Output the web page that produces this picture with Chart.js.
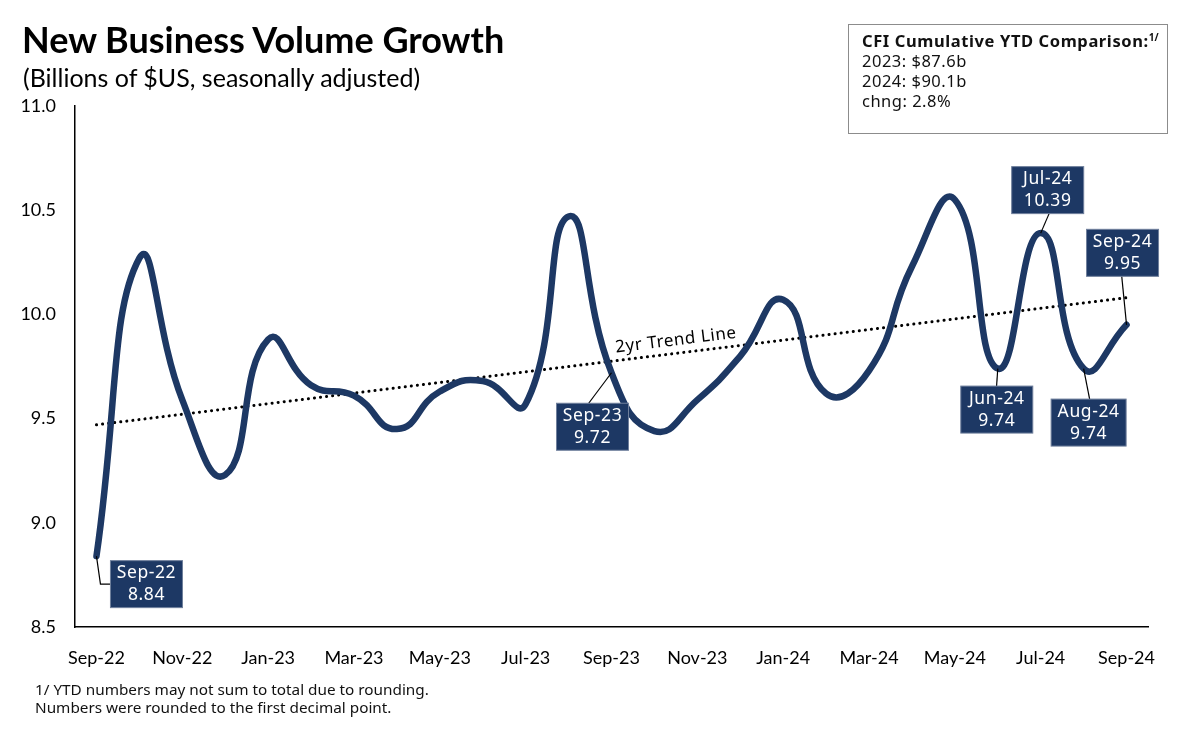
<!DOCTYPE html>
<html>
<head>
<meta charset="utf-8">
<script src="https://cdn.jsdelivr.net/npm/chart.js@4.4.1/dist/chart.umd.min.js"></script>
<style>
  html, body { margin: 0; padding: 0; background: #fff; }
  #wrap { position: relative; width: 1200px; height: 734px; overflow: hidden; }
  #c { position: absolute; left: 0; top: 0; }
  .title { position: absolute; left: 22px; top: 17px; font: bold 36px Lato, sans-serif; color: #000; }
  .sub { position: absolute; left: 23px; top: 62px; font: 25px Lato, sans-serif; color: #000; }
  .box { position: absolute; left: 848px; top: 24px; width: 320px; height: 110px; border: 1px solid #8c8c8c; box-sizing: border-box; padding: 6px 0 0 13px; font: 16.5px "Noto Sans", sans-serif; letter-spacing: 0.5px; line-height: 20px; color: #111; }
  .box b { font-weight: bold; letter-spacing: 0.6px; }
  .box sup { font-size: 10px; vertical-align: 6px; line-height: 0; letter-spacing: 0; }
  .note { position: absolute; left: 35px; top: 680px; font: 15.3px "Noto Sans", sans-serif; line-height: 18px; color: #111; }
</style>
</head>
<body>
<div id="wrap">
  <canvas id="c" width="1200" height="734"></canvas>
  <div class="title">New Business Volume Growth</div>
  <div class="sub">(Billions of $US, seasonally adjusted)</div>
  <div class="box"><b>CFI Cumulative YTD Comparison:<sup>1/</sup></b><br>2023: $87.6b<br>2024: $90.1b<br>chng: 2.8%</div>
  <div class="note">1/ YTD numbers may not sum to total due to rounding.<br>Numbers were rounded to the first decimal point.</div>
</div>
<script>
const months = ['Sep-22','Oct-22','Nov-22','Dec-22','Jan-23','Feb-23','Mar-23','Apr-23','May-23','Jun-23','Jul-23','Aug-23',
  'Sep-23','Oct-23','Nov-23','Dec-23','Jan-24','Feb-24','Mar-24','Apr-24','May-24','Jun-24','Jul-24','Aug-24','Sep-24'];
const volume = [8.84, 10.27, 9.59, 9.23, 9.88, 9.66, 9.61, 9.45, 9.63, 9.68, 9.57, 10.47,
  9.72, 9.44, 9.59, 9.80, 10.07, 9.62, 9.73, 10.23, 10.55, 9.74, 10.39, 9.74, 9.95];
// trend line end points only, the rest is spanned
const trend = [9.47, null, null, null, null, null, null, null, null, null, null, null,
  null, null, null, null, null, null, null, null, null, null, null, null, 10.08];
const yTicks = [8.5, 9.0, 9.5, 10.0, 10.5, 11.0];
const callouts = [0, 12, 21, 22, 23, 24];

const navy = '#1d3864';
// box centre offsets from the point, in px
const calloutPos = { 0: [50, 28, 'elbow'], 12: [-19, 54], 21: [-1, 41], 22: [7, -43], 23: [5, 54], 24: [-4, -72] };

const calloutPlugin = {
  id: 'callouts',
  afterDatasetsDraw(chart) {
    const ctx = chart.ctx;
    const meta = chart.getDatasetMeta(0);
    ctx.save();
    callouts.forEach(i => {
      const pt = meta.data[i];
      const [dx, dy, kind] = calloutPos[i];
      const cx = pt.x + dx, cy = pt.y + dy;
      const w = i === 23 ? 75 : 72, h = 47;
      ctx.strokeStyle = '#000';
      ctx.lineWidth = 1.2;
      ctx.beginPath();
      if (kind === 'elbow') {
        ctx.moveTo(pt.x, pt.y);
        ctx.lineTo(pt.x + 4, cy);
        ctx.lineTo(cx - w / 2, cy);
      } else {
        ctx.moveTo(pt.x, pt.y);
        ctx.lineTo(cx + dx * 0.2, dy > 0 ? cy - h / 2 : cy + h / 2);
      }
      ctx.stroke();
      ctx.fillStyle = navy;
      ctx.fillRect(cx - w / 2, cy - h / 2, w, h);
      ctx.strokeStyle = '#6f7f9c';
      ctx.lineWidth = 1;
      ctx.strokeRect(cx - w / 2, cy - h / 2, w, h);
      ctx.fillStyle = '#fff';
      ctx.font = '17.5px "Noto Sans", sans-serif';
      ctx.letterSpacing = '0.6px';
      ctx.textAlign = 'center';
      ctx.textBaseline = 'middle';
      ctx.fillText(months[i], cx, cy - 11);
      ctx.fillText(volume[i].toFixed(2), cx, cy + 11);
    });
    ctx.restore();
  }
};

const trendLabel = {
  id: 'trendLabel',
  afterDatasetsDraw(chart) {
    const x = chart.scales.x, y = chart.scales.y;
    const x0 = x.getPixelForValue(0), x1 = x.getPixelForValue(months.length - 1);
    const y0 = y.getPixelForValue(trend[0]), y1 = y.getPixelForValue(trend[trend.length - 1]);
    const ang = Math.atan2(y1 - y0, x1 - x0);
    const t = (676 - x0) / (x1 - x0);
    const ctx = chart.ctx;
    ctx.save();
    ctx.translate(x0 + t * (x1 - x0), y0 + t * (y1 - y0) - 13);
    ctx.rotate(ang);
    ctx.font = '17px "Noto Sans", sans-serif';
    ctx.letterSpacing = '0.6px';
    ctx.fillStyle = '#000';
    ctx.textAlign = 'center';
    ctx.textBaseline = 'middle';
    ctx.fillText('2yr Trend Line', 0, 0);
    ctx.restore();
  }
};

new Chart(document.getElementById('c'), {
  type: 'line',
  data: {
    labels: months,
    datasets: [{
      label: 'Volume',
      data: volume,
      borderColor: navy,
      borderWidth: 6.5,
      pointRadius: 0,
      tension: 0.5,
      borderCapStyle: 'round',
      borderJoinStyle: 'round'
    }, {
      label: 'Trend',
      data: trend,
      spanGaps: true,
      borderColor: '#000',
      borderWidth: 3,
      borderDash: [0.1, 6],
      borderCapStyle: 'round',
      pointRadius: 0
    }]
  },
  options: {
    responsive: false,
    animation: false,
    layout: { padding: { left: 0, right: 52, top: 106, bottom: 0 } },
    plugins: { legend: { display: false }, tooltip: { enabled: false } },
    scales: {
      x: {
        offset: true,
        grid: { display: false, drawTicks: false },
        border: { color: '#000', width: 1.5 },
        afterFit: s => { s.height = 107; },
        ticks: {
          autoSkip: false, maxRotation: 0, padding: 20, color: '#000',
          font: { family: 'Lato', size: 18 },
          callback: (v, i) => i % 2 === 0 ? months[i] : ''
        }
      },
      y: {
        min: 8.5, max: 11.0,
        grid: { display: false, drawTicks: false },
        border: { color: '#000', width: 1.5 },
        afterFit: s => { s.width = 75; },
        afterBuildTicks: s => { s.ticks = yTicks.map(v => ({ value: v })); },
        ticks: {
          padding: 19, color: '#000',
          font: { family: 'Lato', size: 18 },
          callback: v => v.toFixed(1)
        }
      }
    }
  },
  plugins: [calloutPlugin, trendLabel]
});
</script>
</body>
</html>
